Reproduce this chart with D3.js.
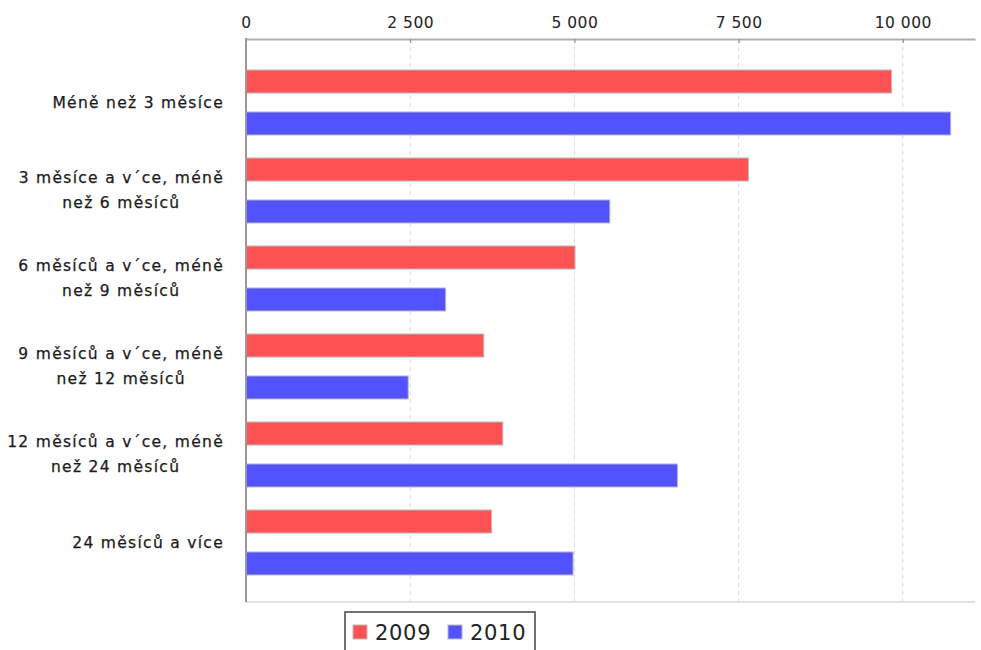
<!DOCTYPE html>
<html>
<head>
<meta charset="utf-8">
<script src="https://cdn.jsdelivr.net/npm/d3@7/dist/d3.min.js"></script>
<style>
  html, body { margin: 0; padding: 0; background: #ffffff; }
  svg { display: block; }
</style>
</head>
<body>
<svg id="chart" width="981" height="650"></svg>
<script>
// Duration of registered unemployment, counts per category
const categories = [
  ["Méně než 3 měsíce"],
  ["3 měsíce a v´ce, méně", "než 6 měsíců"],
  ["6 měsíců a v´ce, méně", "než 9 měsíců"],
  ["9 měsíců a v´ce, méně", "než 12 měsíců"],
  ["12 měsíců a v´ce, méně", "než 24 měsíců"],
  ["24 měsíců a více"]
];
const seriesNames = ["2009", "2010"];
const values2009 = [9830, 7650, 5010, 3620, 3910, 3740];
const values2010 = [10730, 5540, 3040, 2470, 6570, 4980];
const tickValues = [0, 2500, 5000, 7500, 10000];
const colors = ["#ff5252", "#5252ff"];

const svg = d3.select("#chart");
const plot = { left: 246, top: 39, right: 975, bottom: 602 };

const fmt = d3.formatLocale({ decimal: ",", thousands: "\u00a0", grouping: [3], currency: ["", " Kč"] }).format(",d");

const x = d3.scaleLinear().domain([0, 11100]).range([plot.left, plot.right]);
const y = d3.scaleBand().domain(d3.range(categories.length)).range([plot.top + 19.5, plot.bottom - 15.5]);
const ySub = d3.scaleBand().domain(seriesNames).range([0, y.bandwidth()]).paddingInner(0.452).paddingOuter(0.274);

// dashed vertical grid
svg.append("g").selectAll("line").data(tickValues.slice(1)).join("line")
  .attr("x1", d => x(d)).attr("x2", d => x(d))
  .attr("y1", plot.top).attr("y2", plot.bottom)
  .attr("stroke", "#d8d8d8").attr("stroke-width", 1).attr("stroke-dasharray", "4,4");

// bottom frame line
svg.append("line").attr("x1", plot.left).attr("x2", plot.right)
  .attr("y1", plot.bottom).attr("y2", plot.bottom)
  .attr("stroke", "#e2e2e2").attr("stroke-width", 2);

// bars
const series = [values2009, values2010];
const gBars = svg.append("g");
seriesNames.forEach((name, si) => {
  gBars.append("g").selectAll("rect").data(series[si]).join("rect")
    .attr("x", x(0))
    .attr("y", (d, i) => y(i) + ySub(name))
    .attr("width", d => x(d) - x(0))
    .attr("height", ySub.bandwidth())
    .attr("fill", colors[si])
    .attr("stroke", "#b8b8b8").attr("stroke-width", 1);
});

// top axis
const axis = d3.axisTop(x).tickValues(tickValues).tickFormat(fmt).tickSizeInner(-4).tickSizeOuter(0).tickPadding(11);
const gAxis = svg.append("g").attr("transform", `translate(0,${plot.top})`).call(axis);
gAxis.select(".domain").attr("stroke", "#b0b0b0").attr("stroke-width", 2);
gAxis.selectAll(".tick line").attr("stroke", "#888");
gAxis.selectAll(".tick text")
  .attr("font-family", "DejaVu Sans, sans-serif").attr("font-size", 15.5)
  .attr("fill", "#222").attr("letter-spacing", 0.5);

// left axis line
svg.append("line").attr("x1", plot.left).attr("x2", plot.left)
  .attr("y1", plot.top - 1).attr("y2", plot.bottom)
  .attr("stroke", "#999").attr("stroke-width", 2);

// category labels: block right-aligned, lines centered within block
const labelRight = 224;
const lineGap = 25;
categories.forEach((lines, i) => {
  const g = svg.append("g");
  const cy = y(i) + y.bandwidth() / 2;
  const texts = lines.map((t, k) => g.append("text")
    .attr("font-family", "DejaVu Sans, sans-serif").attr("font-size", 15.5)
    .attr("letter-spacing", 1.3).attr("fill", "#1a1a1a")
    .attr("stroke", "#1a1a1a").attr("stroke-width", 0.25)
    .attr("dominant-baseline", "central")
    .attr("y", cy + (k - (lines.length - 1) / 2) * lineGap)
    .text(t));
  const widths = texts.map(t => t.node().getComputedTextLength());
  const maxW = d3.max(widths);
  texts.forEach((t, k) => t.attr("text-anchor", "middle").attr("x", labelRight - maxW / 2));
});

// legend
const lg = svg.append("g").attr("transform", "translate(345,612)");
lg.append("rect").attr("x", 0).attr("y", 0).attr("width", 190).attr("height", 50)
  .attr("fill", "#fff").attr("stroke", "#444").attr("stroke-width", 1.5);
const legendX = [8, 103];
seriesNames.forEach((name, si) => {
  lg.append("rect").attr("x", legendX[si]).attr("y", 13).attr("width", 14).attr("height", 14)
    .attr("fill", colors[si]).attr("stroke", "#bbb").attr("stroke-width", 1);
  lg.append("text").attr("x", legendX[si] + 22).attr("y", 28)
    .attr("font-family", "DejaVu Sans, sans-serif").attr("font-size", 21)
    .attr("letter-spacing", 0.7).attr("fill", "#222").text(name);
});
</script>
</body>
</html>
